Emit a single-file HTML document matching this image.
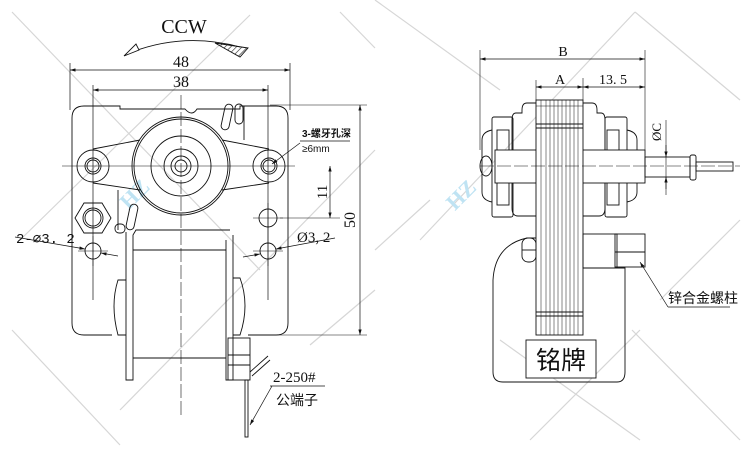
<!DOCTYPE html>
<html><head><meta charset="utf-8"><style>
html,body{margin:0;padding:0;background:#fff;}
svg{display:block;}
text{font-family:"Liberation Serif","Noto Serif CJK SC",serif;fill:#111;}
.cjk{font-family:"Liberation Sans","Noto Sans CJK SC",sans-serif;}
</style></head><body>
<svg width="750" height="450" viewBox="0 0 750 450" xmlns="http://www.w3.org/2000/svg">
<defs>
<marker id="a" viewBox="0 0 10 6" refX="10" refY="3" markerWidth="8" markerHeight="5" orient="auto-start-reverse"><path d="M0,0L10,3L0,6z" fill="#111"/></marker>
<pattern id="h" width="4" height="4" patternUnits="userSpaceOnUse" patternTransform="rotate(45)"><line x1="0" y1="0" x2="0" y2="4" stroke="#222" stroke-width="1.2"/></pattern>
</defs>
<g stroke="#d6d6d6" stroke-width="1.2">
<line x1="12" y1="12" x2="260" y2="270"/><line x1="120" y1="410" x2="375" y2="150"/>
<line x1="250" y1="15" x2="20" y2="240"/><line x1="340" y1="12" x2="375" y2="48"/>
<line x1="375" y1="290" x2="310" y2="345"/><line x1="12" y1="330" x2="120" y2="445"/>
<line x1="375" y1="0" x2="500" y2="90"/><line x1="500" y1="340" x2="640" y2="440"/>
<line x1="635" y1="12" x2="740" y2="100"/><line x1="632" y1="330" x2="740" y2="440"/>
<line x1="635" y1="12" x2="420" y2="240"/><line x1="740" y1="220" x2="660" y2="300"/>
<line x1="640" y1="330" x2="530" y2="440"/><line x1="430" y1="200" x2="375" y2="250"/>
</g>
<text x="118" y="205" font-size="22" font-weight="bold" style="fill:#bfe3f3" transform="rotate(-45 130 195)">HZ</text>
<text x="440" y="205" font-size="22" font-weight="bold" style="fill:#bfe3f3" transform="rotate(-45 455 190)">HZ</text>

<g fill="none" stroke="#111" stroke-width="0.9">
<path d="M132,52 Q185,32 240,47"/>
<path d="M124,56 L136,44 L139,50 z" fill="#fff"/>
<path d="M215,43 L248,48 L240,57 z" fill="url(#h)"/>
<line x1="70" y1="63" x2="70" y2="110" stroke-width="0.7"/>
<line x1="290" y1="63" x2="290" y2="110" stroke-width="0.7"/>
<line x1="70" y1="70" x2="290" y2="70" marker-start="url(#a)" marker-end="url(#a)" stroke-width="0.7"/>
<line x1="93" y1="85" x2="93" y2="300" stroke-width="0.7"/>
<line x1="268" y1="85" x2="268" y2="300" stroke-width="0.7"/>
<line x1="93" y1="90" x2="268" y2="90" marker-start="url(#a)" marker-end="url(#a)" stroke-width="0.7"/>
<path d="M84,106 L120,106 L120,109 L185,109 Q192,117 197,109 L240,109 L240,106 L276,106 Q288,106 288,118 L288,323 Q288,335 276,335 L248,335 M112,335 L84,335 Q72,335 72,323 L72,118 Q72,106 84,106"/>
<path d="M93,149 L140,140 M93,183 L140,190 M269,149 L222,140 M269,183 L222,190"/>
<circle cx="93" cy="166" r="16"/><circle cx="93" cy="166" r="8"/><circle cx="93" cy="166" r="6"/>
<circle cx="269" cy="166" r="16"/><circle cx="269" cy="166" r="8"/><circle cx="269" cy="166" r="6"/>
<circle cx="181" cy="166" r="49"/><circle cx="181" cy="166" r="47"/>
<circle cx="181" cy="166" r="30"/><circle cx="181" cy="166" r="17"/><circle cx="181" cy="166" r="10"/><circle cx="181" cy="166" r="6"/>
<line x1="62" y1="166" x2="295" y2="166" stroke-width="0.6"/>
<line x1="181" y1="95" x2="181" y2="415" stroke-width="0.6" stroke-dasharray="14,3"/>
<rect x="223" y="104" width="8" height="26" rx="4" transform="rotate(12 227 117)"/>
<rect x="235" y="104" width="8" height="20" rx="4"/>
<line x1="244" y1="106" x2="244" y2="140"/>
<rect x="128" y="204" width="8" height="26" rx="4" transform="rotate(12 132 217)"/>
<line x1="118" y1="190" x2="118" y2="230"/>
<rect x="115" y="224" width="10" height="9" rx="4"/>
<polygon points="75,218 84,203 102,203 111,218 102,233 84,233"/>
<circle cx="93" cy="218" r="10"/><circle cx="93" cy="218" r="8"/>
<circle cx="93" cy="251" r="8"/><circle cx="268" cy="218" r="9"/><circle cx="268" cy="251" r="8"/>
<line x1="78" y1="251" x2="108" y2="251" stroke-width="0.5"/><line x1="93" y1="236" x2="93" y2="266" stroke-width="0.5"/>
<line x1="253" y1="218" x2="283" y2="218" stroke-width="0.5"/><line x1="253" y1="251" x2="283" y2="251" stroke-width="0.5"/>
<line x1="268" y1="203" x2="268" y2="266" stroke-width="0.5"/>
<path d="M126,232 L126,380 L133,380 L133,235 L136,230 L230,230 M226,240 L226,380 L233,380 L233,235"/>
<line x1="133" y1="250" x2="226" y2="250"/><line x1="133" y1="358" x2="226" y2="358"/>
<path d="M126,280 L118,280 Q110,305 118,335 L126,335"/>
<path d="M233,278 L240,278 Q250,305 240,335 L233,335"/>
<rect x="228" y="338" width="22" height="42"/>
<line x1="228" y1="355" x2="250" y2="355"/><line x1="228" y1="365" x2="250" y2="365"/>
<line x1="250" y1="372" x2="268" y2="356"/><line x1="252" y1="376" x2="270" y2="360"/>
<rect x="245" y="380" width="3" height="57"/>
<line x1="270" y1="105" x2="367" y2="105" stroke-width="0.6"/>
<line x1="270" y1="335" x2="367" y2="335" stroke-width="0.6"/>
<line x1="360" y1="105" x2="360" y2="335" marker-start="url(#a)" marker-end="url(#a)" stroke-width="0.7"/>
<line x1="280" y1="218" x2="340" y2="218" stroke-width="0.6"/>
<line x1="330" y1="166" x2="330" y2="218" marker-start="url(#a)" marker-end="url(#a)" stroke-width="0.7"/>
<line x1="300" y1="141" x2="350" y2="141" stroke-width="0.7"/>
<line x1="300" y1="143" x2="272" y2="164" marker-end="url(#a)" stroke-width="0.7"/>
<line x1="15" y1="237" x2="85" y2="249" marker-end="url(#a)" stroke-width="0.7"/>
<line x1="118" y1="256" x2="101" y2="253" marker-end="url(#a)" stroke-width="0.7"/>
<line x1="335" y1="238" x2="276" y2="249" marker-end="url(#a)" stroke-width="0.7"/>
<line x1="243" y1="257" x2="260" y2="254" marker-end="url(#a)" stroke-width="0.7"/>
<line x1="270" y1="386" x2="325" y2="386" stroke-width="0.7"/>
<line x1="272" y1="386" x2="250" y2="425" marker-end="url(#a)" stroke-width="0.7"/>

<line x1="480" y1="50" x2="480" y2="150" stroke-width="0.6"/>
<line x1="645" y1="50" x2="645" y2="155" stroke-width="0.6"/>
<line x1="480" y1="59" x2="645" y2="59" marker-start="url(#a)" marker-end="url(#a)" stroke-width="0.7"/>
<line x1="536" y1="80" x2="536" y2="100" stroke-width="0.6"/>
<line x1="583" y1="78" x2="583" y2="100" stroke-width="0.6"/>
<line x1="536" y1="87" x2="583" y2="87" marker-start="url(#a)" marker-end="url(#a)" stroke-width="0.7"/>
<line x1="583" y1="87" x2="645" y2="87" marker-start="url(#a)" marker-end="url(#a)" stroke-width="0.7"/>
<path d="M536,103 L527,103 Q522,103 522,110 L522,113 L516,113 Q512,113 512,120 L512,208 Q512,216 518,216 L536,216"/>
<path d="M583,103 L592,103 Q597,103 597,110 L597,113 L601,113 Q605,113 605,120 L605,208 Q605,216 599,216 L583,216"/>
<rect x="492" y="117" width="21" height="100" rx="2"/>
<rect x="497" y="130" width="12" height="30"/><rect x="497" y="175" width="12" height="30"/>
<path d="M492,130 Q482,132 482,140 L482,192 Q482,200 492,202"/>
<rect x="605" y="117" width="22" height="100" rx="2"/>
<rect x="607" y="130" width="12" height="30"/><rect x="607" y="175" width="12" height="30"/>
<path d="M627,130 Q637,132 637,140 L637,192 Q637,200 627,202"/>
<rect x="495" y="150" width="150" height="33" fill="#fff"/>
<rect x="645" y="157" width="45" height="20"/>
<rect x="690" y="155" width="6" height="25" rx="2"/>
<rect x="696" y="162" width="37" height="9"/>
<ellipse cx="486" cy="166" rx="6" ry="10"/>
<rect x="536" y="100" width="47" height="235" fill="#fff"/>
<g stroke-width="0.5">
<line x1="541" y1="100" x2="541" y2="335"/><line x1="546" y1="100" x2="546" y2="335"/><line x1="550" y1="100" x2="550" y2="335"/>
<line x1="554" y1="100" x2="554" y2="335"/><line x1="558" y1="100" x2="558" y2="335"/><line x1="562" y1="100" x2="562" y2="335"/>
<line x1="566" y1="100" x2="566" y2="335"/><line x1="570" y1="100" x2="570" y2="335"/><line x1="574" y1="100" x2="574" y2="335"/><line x1="578" y1="100" x2="578" y2="335"/>
<line x1="536" y1="106" x2="583" y2="106"/>
</g>
<line x1="536" y1="124" x2="583" y2="124"/><line x1="536" y1="128" x2="583" y2="128"/>
<line x1="536" y1="312" x2="583" y2="312"/><line x1="536" y1="316" x2="583" y2="316"/>
<line x1="480" y1="166" x2="740" y2="166" stroke-width="0.6" stroke-dasharray="14,3"/>
<line x1="666" y1="120" x2="666" y2="195" stroke-width="0.6"/>
<line x1="666" y1="145" x2="666" y2="157" marker-end="url(#a)" stroke-width="0.7"/>
<line x1="666" y1="189" x2="666" y2="177" marker-end="url(#a)" stroke-width="0.7"/>
<path d="M536,238 L527,238 Q495,245 493,280 L493,372 Q493,382 503,382 L617,382 Q625,382 625,372 L625,268 L583,268"/>
<rect x="522" y="238" width="14" height="24" rx="6"/>
<line x1="522" y1="250" x2="536" y2="250"/>
<rect x="583" y="234" width="34" height="34"/>
<rect x="615" y="234" width="30" height="33"/>
<line x1="615" y1="252" x2="645" y2="252"/>
<rect x="526" y="340" width="70" height="38" fill="#fff"/>
<line x1="668" y1="307" x2="730" y2="307" stroke-width="0.7"/>
<line x1="668" y1="307" x2="640" y2="262" marker-end="url(#a)" stroke-width="0.7"/>
</g>

<text x="184" y="33" font-size="20" text-anchor="middle">CCW</text>
<text x="181" y="67" font-size="16" text-anchor="middle">48</text>
<text x="181" y="87" font-size="16" text-anchor="middle">38</text>
<text x="302" y="137" font-size="10" class="cjk" font-weight="bold">3-螺牙孔深</text>
<text x="302" y="152" font-size="10" class="cjk">≥6mm</text>
<text x="355" y="220" font-size="16" text-anchor="middle" transform="rotate(-90 355 220)">50</text>
<text x="327" y="192" font-size="15" text-anchor="middle" transform="rotate(-90 327 192)">11</text>
<text x="16" y="243" font-size="14" style="font-family:'Liberation Mono',monospace">2-∅3. 2</text>
<text x="297" y="242" font-size="15">Ø3, 2</text>
<text x="273" y="382" font-size="15">2-250#</text>
<text x="276" y="405" font-size="14" class="cjk">公端子</text>
<text x="563" y="56" font-size="14" text-anchor="middle">B</text>
<text x="560" y="84" font-size="14" text-anchor="middle">A</text>
<text x="613" y="84" font-size="14" text-anchor="middle">13. 5</text>
<text x="661" y="132" font-size="13" text-anchor="middle" transform="rotate(-90 661 132)">ØC</text>
<text x="561" y="369" font-size="25" class="cjk" text-anchor="middle">铭牌</text>
<text x="668" y="303" font-size="14" class="cjk">锌合金螺柱</text>
</svg>
</body></html>
